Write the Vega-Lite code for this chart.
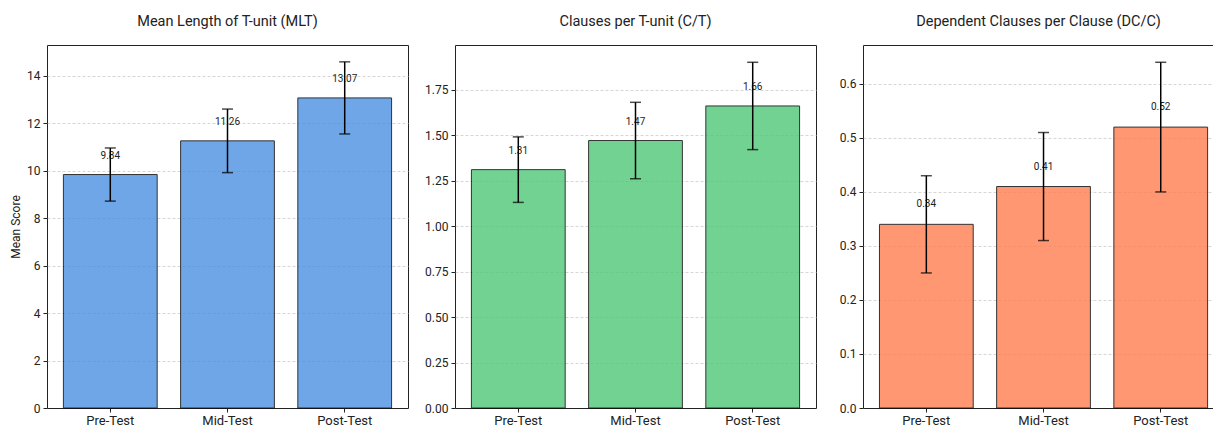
{
  "$schema": "https://vega.github.io/schema/vega-lite/v6.json",
  "padding": {"left": 9, "top": 13, "right": 0, "bottom": 0},
  "background": "white",
  "datasets": {
    "scores": [
      {"measure": "MLT", "phase": "Pre-Test", "mean": 9.84, "sd": 1.12},
      {"measure": "MLT", "phase": "Mid-Test", "mean": 11.26, "sd": 1.34},
      {"measure": "MLT", "phase": "Post-Test", "mean": 13.07, "sd": 1.52},
      {"measure": "C/T", "phase": "Pre-Test", "mean": 1.31, "sd": 0.18},
      {"measure": "C/T", "phase": "Mid-Test", "mean": 1.47, "sd": 0.21},
      {"measure": "C/T", "phase": "Post-Test", "mean": 1.66, "sd": 0.24},
      {"measure": "DC/C", "phase": "Pre-Test", "mean": 0.34, "sd": 0.09},
      {"measure": "DC/C", "phase": "Mid-Test", "mean": 0.41, "sd": 0.10},
      {"measure": "DC/C", "phase": "Post-Test", "mean": 0.52, "sd": 0.12}
    ]
  },
  "config": {
    "font": "Roboto",
    "view": {"stroke": "#222222", "strokeWidth": 1},
    "axis": {
      "labelFont": "Roboto", "labelFontSize": 12, "labelColor": "#222222",
      "tickColor": "#222222", "tickSize": 4, "tickWidth": 1, "labelPadding": 3,
      "domain": false,
      "titleFont": "Roboto", "titleFontSize": 12, "titleFontWeight": "normal", "titleColor": "#222222"
    },
    "axisY": {"gridDash": [3, 2], "gridColor": "#cccccc", "gridWidth": 0.8, "gridOpacity": {"condition": {"test": "datum.value === 0", "value": 0}, "value": 1}},
    "axisX": {"grid": false, "labelAngle": 0, "title": null, "labelFontSize": 13, "labelPadding": 2},
    "title": {"font": "Roboto", "fontSize": 14.5, "fontWeight": "normal", "color": "#222222", "anchor": "middle", "frame": "group", "baseline": "alphabetic", "offset": 15.5}
  },
  "bounds": "flush",
  "spacing": 47,
  "hconcat": [
    {
      "width": 361, "height": 363,
      "title": "Mean Length of T-unit (MLT)",
      "data": {"name": "scores"},
      "transform": [{"filter": "datum.measure === 'MLT'"}],
      "encoding": {
        "x": {"field": "phase", "type": "nominal", "sort": ["Pre-Test", "Mid-Test", "Post-Test"], "scale": {"paddingInner": 0.2, "paddingOuter": 0.14}},
        "y": {"field": "mean", "type": "quantitative", "scale": {"domain": [0, 15.3], "nice": false}, "axis": {"values": [0, 2, 4, 6, 8, 10, 12, 14], "format": "d", "title": "Mean Score", "titlePadding": 4}}
      },
      "layer": [
        {"mark": {"type": "bar", "fill": "#4A90E2", "stroke": "black", "strokeWidth": 1, "opacity": 0.8}},
        {"mark": {"type": "text", "dy": -18.5, "baseline": "middle", "fontSize": 10, "color": "#222222"}, "encoding": {"text": {"field": "mean", "type": "quantitative", "format": ".2f"}}},
        {"mark": {"type": "errorbar", "ticks": {"size": 11}, "color": "black", "thickness": 1.5}, "encoding": {"yError": {"field": "sd"}}}
      ]
    },
    {
      "width": 361, "height": 363,
      "title": "Clauses per T-unit (C/T)",
      "data": {"name": "scores"},
      "transform": [{"filter": "datum.measure === 'C/T'"}],
      "encoding": {
        "x": {"field": "phase", "type": "nominal", "sort": ["Pre-Test", "Mid-Test", "Post-Test"], "scale": {"paddingInner": 0.2, "paddingOuter": 0.14}},
        "y": {"field": "mean", "type": "quantitative", "scale": {"domain": [0, 1.995], "nice": false}, "axis": {"values": [0, 0.25, 0.5, 0.75, 1, 1.25, 1.5, 1.75], "format": ".2f", "title": null}}
      },
      "layer": [
        {"mark": {"type": "bar", "fill": "#50C878", "stroke": "black", "strokeWidth": 1, "opacity": 0.8}},
        {"mark": {"type": "text", "dy": -18.5, "baseline": "middle", "fontSize": 10, "color": "#222222"}, "encoding": {"text": {"field": "mean", "type": "quantitative", "format": ".2f"}}},
        {"mark": {"type": "errorbar", "ticks": {"size": 11}, "color": "black", "thickness": 1.5}, "encoding": {"yError": {"field": "sd"}}}
      ]
    },
    {
      "width": 351, "height": 363,
      "title": "Dependent Clauses per Clause (DC/C)",
      "data": {"name": "scores"},
      "transform": [{"filter": "datum.measure === 'DC/C'"}],
      "encoding": {
        "x": {"field": "phase", "type": "nominal", "sort": ["Pre-Test", "Mid-Test", "Post-Test"], "scale": {"paddingInner": 0.2, "paddingOuter": 0.0975, "align": 0.72}},
        "y": {"field": "mean", "type": "quantitative", "scale": {"domain": [0, 0.672], "nice": false}, "axis": {"values": [0, 0.1, 0.2, 0.3, 0.4, 0.5, 0.6], "format": ".1f", "title": null}}
      },
      "layer": [
        {"mark": {"type": "bar", "fill": "#FF7F50", "stroke": "black", "strokeWidth": 1, "opacity": 0.8}},
        {"mark": {"type": "text", "dy": -20, "baseline": "middle", "fontSize": 10, "color": "#222222"}, "encoding": {"text": {"field": "mean", "type": "quantitative", "format": ".2f"}}},
        {"mark": {"type": "errorbar", "ticks": {"size": 11}, "color": "black", "thickness": 1.5}, "encoding": {"yError": {"field": "sd"}}}
      ]
    }
  ]
}
